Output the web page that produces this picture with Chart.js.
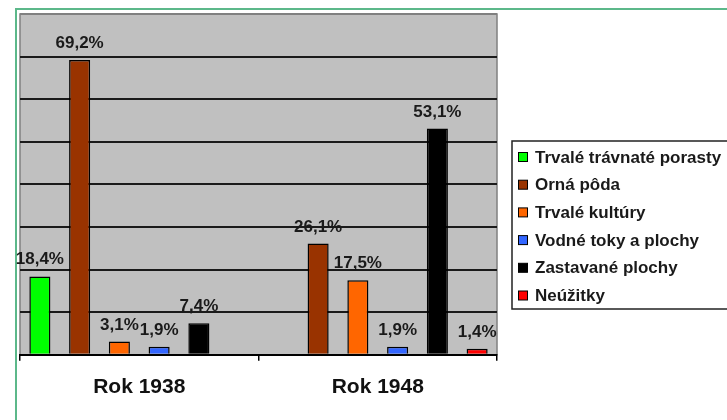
<!DOCTYPE html>
<html>
<head>
<meta charset="utf-8">
<script src="https://cdn.jsdelivr.net/npm/chart.js@4"></script>
<style>
    html, body { margin: 0; padding: 0; background: #fff; }
</style>
</head>
<body>
<canvas id="land-chart" width="727" height="420"></canvas>
<script>
const years = ['Rok 1938', 'Rok 1948'];
const landTypes = ['Trvalé trávnaté porasty', 'Orná pôda', 'Trvalé kultúry', 'Vodné toky a plochy', 'Zastavané plochy', 'Neúžitky'];
const landColors = ['#00ff00', '#993300', '#ff6600', '#3366ff', '#000000', '#ff0000'];
const share1938 = [18.4, 69.2, 3.1, 1.9, 7.4, null];
const share1948 = [null, 26.1, 17.5, 1.9, 53.1, 1.4];

Chart.defaults.font.family = "'Liberation Sans', Arial, sans-serif";

const ctx = document.getElementById('land-chart').getContext('2d');

// Gray plot area + green page frame
const framePlugin = {
    id: 'frame',
    beforeDraw(chart) {
        const { ctx, chartArea: a } = chart;
        ctx.save();
        ctx.strokeStyle = '#5cb88a';
        ctx.lineWidth = 2;
        ctx.beginPath();
        ctx.moveTo(16, 420);
        ctx.lineTo(16, 9);
        ctx.lineTo(727, 9);
        ctx.stroke();

        ctx.fillStyle = '#c0c0c0';
        ctx.fillRect(a.left, a.top, a.right - a.left, a.bottom - a.top);
        ctx.strokeStyle = '#808080';
        ctx.lineWidth = 1.5;
        ctx.strokeRect(a.left, a.top, a.right - a.left, a.bottom - a.top);
        ctx.restore();
    }
};

// Percent labels above bars
const valueLabels = {
    id: 'valueLabels',
    afterDatasetsDraw(chart) {
        const ctx = chart.ctx;
        ctx.save();
        ctx.font = "bold 17px 'Liberation Sans', Arial, sans-serif";
        ctx.fillStyle = '#1a1a1a';
        ctx.textAlign = 'center';
        ctx.textBaseline = 'alphabetic';
        chart.data.datasets.forEach((ds, i) => {
            const meta = chart.getDatasetMeta(i);
            meta.data.forEach((bar, j) => {
                const v = ds.data[j];
                if (v === null || v === undefined) return;
                ctx.fillText(v.toFixed(1).replace('.', ',') + '%', bar.x, bar.y - 12);
            });
        });
        ctx.restore();
    }
};

// Boxed legend on the right, like the original
const boxLegend = {
    id: 'boxLegend',
    afterDraw(chart) {
        const ctx = chart.ctx;
        const left = 512, top = 141, bottom = 309;
        ctx.save();
        ctx.fillStyle = '#fff';
        ctx.fillRect(left, top, 240, bottom - top);
        ctx.strokeStyle = '#222';
        ctx.lineWidth = 1.5;
        ctx.strokeRect(left, top, 240, bottom - top);
        ctx.font = "bold 17px 'Liberation Sans', Arial, sans-serif";
        ctx.textBaseline = 'middle';
        chart.data.datasets.forEach((ds, i) => {
            const y = 157 + i * 27.7;
            ctx.fillStyle = ds.backgroundColor;
            ctx.fillRect(518, y - 4.5, 9, 9);
            ctx.strokeStyle = '#000';
            ctx.lineWidth = 1;
            ctx.strokeRect(518.5, y - 4.5, 9, 9);
            ctx.fillStyle = '#1a1a1a';
            ctx.fillText(ds.label, 535, y + 1);
        });
        ctx.restore();
    }
};

const chartData = {
    labels: years,
    datasets: landTypes.map((name, i) => ({
        label: name,
        data: [share1938[i], share1948[i]],
        backgroundColor: landColors[i],
        borderColor: '#000',
        borderWidth: 1.5,
        categoryPercentage: 1.0,
        barPercentage: 0.53
    }))
};

const chartOptions = {
    responsive: false,
    animation: false,
    layout: { padding: { left: 20, right: 230, top: 14, bottom: 6 } },
    scales: {
        x: {
            grid: {
                offset: true,
                drawOnChartArea: false,
                drawTicks: true,
                tickLength: 6,
                color: '#000',
                lineWidth: 1.5
            },
            border: { color: '#000', width: 2 },
            ticks: {
                color: '#111',
                padding: 14,
                font: { size: 21, weight: 'bold' }
            }
        },
        y: {
            min: 0,
            max: 80,
            ticks: { display: false, stepSize: 10 },
            grid: {
                drawTicks: false,
                lineWidth: 2,
                color: (c) => c.tick && c.tick.value === 80 ? '#808080' : '#1a1a1a'
            },
            border: { display: false }
        }
    },
    plugins: {
        legend: { display: false },
        tooltip: { enabled: false }
    }
};

new Chart(ctx, {
    type: 'bar',
    data: chartData,
    options: chartOptions,
    plugins: [framePlugin, valueLabels, boxLegend]
});
</script>
</body>
</html>
